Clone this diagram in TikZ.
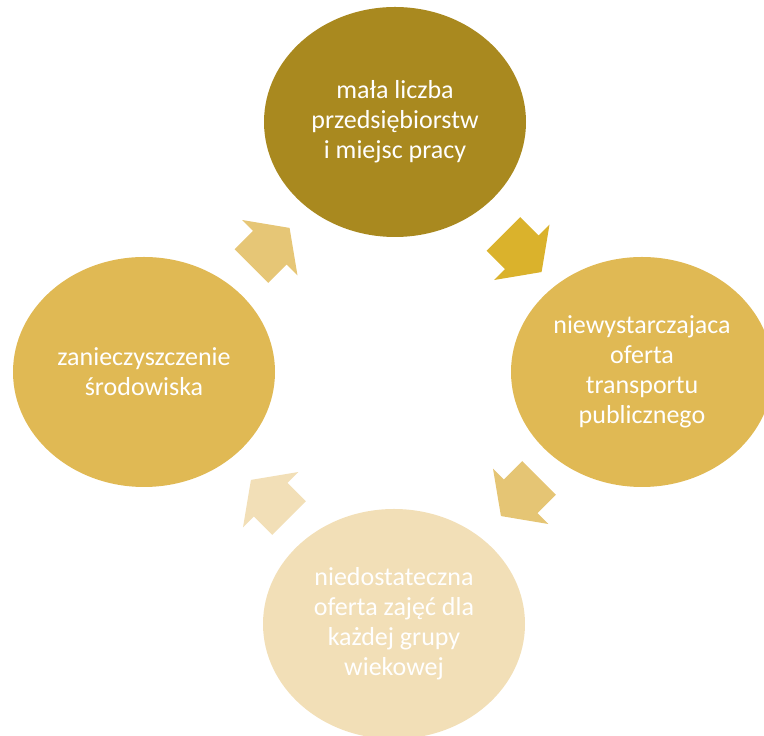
\documentclass[tikz,border=0pt]{standalone}
\usepackage{fontspec}
\setmainfont{Carlito}
\usetikzlibrary{shapes.geometric,shapes.arrows,calc}
\definecolor{gold1}{HTML}{A9891F}
\definecolor{gold2}{HTML}{E0B954}
\definecolor{gold3}{HTML}{F2DFB7}
\definecolor{arTR}{HTML}{DAB22C}
\definecolor{arBR}{HTML}{E5C574}
\definecolor{arTL}{HTML}{E6C676}

\begin{document}
\begin{tikzpicture}[x=1pt,y=1pt,font=\fontsize{26}{30}\selectfont,
  c/.style={ellipse,minimum width=262pt,minimum height=230pt,inner sep=0pt,text=white,align=center},
  ar/.style={single arrow,minimum height=54pt,single arrow head extend=15.5pt,single arrow tip angle=109,inner xsep=0pt,inner ysep=23.5pt}]
\clip (0,0) rectangle (764,736);
\node[c,fill=gold1] (praca) at (395,614) {mała liczba\\przedsiębiorstw\\i miejsc pracy};
\node[c,fill=gold2] (transport) at (642,364) {niewystarczajaca\\oferta\\transportu\\publicznego};
\node[c,fill=gold3] (zajecia) at (394,112) {niedostateczna\\oferta zajęć dla\\każdej grupy\\wiekowej};
\node[c,fill=gold2] (srodowisko) at (144,364) {zanieczyszczenie\\środowiska};
% strzalki cyklu
\node[ar,fill=arTR,rotate=-45] (a1) at ($(praca)!0.5!(transport)+(-2,0)$) {};
\node[ar,fill=arBR,rotate=-135] (a2) at ($(transport)!0.5!(zajecia)+(8,7)$) {};
\node[ar,fill=gold3,rotate=135] (a3) at ($(zajecia)!0.5!(srodowisko)+(7,-7)$) {};
\node[ar,fill=arTL,rotate=45] (a4) at ($(srodowisko)!0.5!(praca)+(-5,-6)$) {};
\end{tikzpicture}
\end{document}
